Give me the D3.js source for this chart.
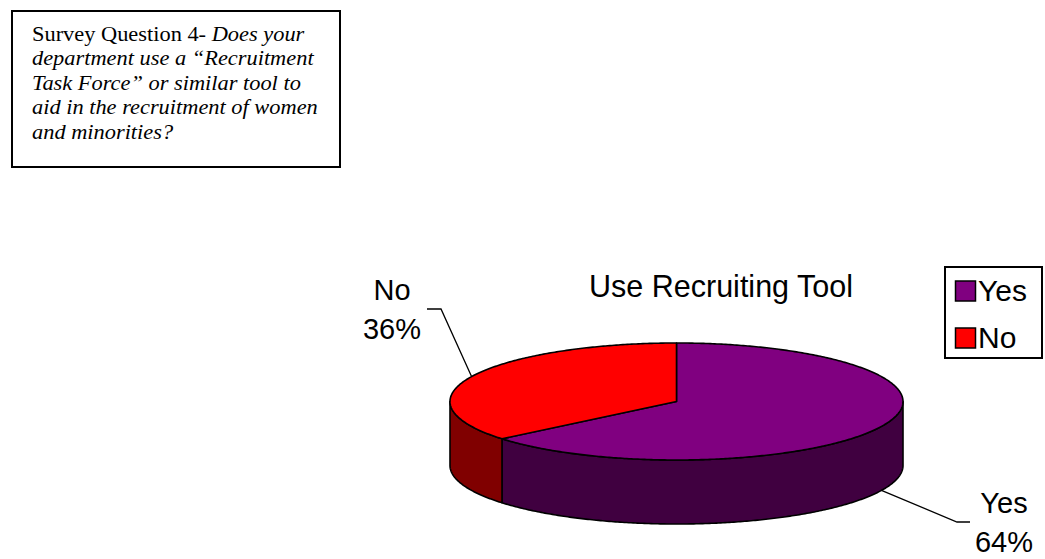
<!DOCTYPE html>
<html>
<head>
<meta charset="utf-8">
<script src="https://cdn.jsdelivr.net/npm/d3@7"></script>
<style>
  html, body { margin: 0; padding: 0; background: #fff; }
  svg { display: block; }
</style>
</head>
<body>
<svg id="chart" width="1045" height="559"></svg>
<script>
// Survey answers
const categories = ["Yes", "No"];
const values = [64, 36];
const pctLabels = ["64%", "36%"];
const chartTitle = "Use Recruiting Tool";
const questionLines = [
  [{t: "Survey Question 4- ", i: false}, {t: "Does your", i: true}],
  [{t: "department use a \u201cRecruitment", i: true}],
  [{t: "Task Force\u201d or similar tool to", i: true}],
  [{t: "aid in the recruitment of women", i: true}],
  [{t: "and minorities?", i: true}]
];

const topColors = ["#800080", "#ff0000"];
const sideColors = ["#400040", "#800000"];

const svg = d3.select("#chart");

// Question box
svg.append("rect")
  .attr("x", 12).attr("y", 11).attr("width", 328).attr("height", 156)
  .attr("fill", "#fff").attr("stroke", "#000").attr("stroke-width", 2);

// The question text is set slightly wide, as in the printed survey
const qText = svg.append("g")
  .attr("transform", "translate(32,0) scale(1.12,1) translate(-32,0)")
  .attr("font-family", "'Liberation Serif', 'Times New Roman', serif")
  .attr("font-size", 20)
  .attr("fill", "#000");
questionLines.forEach((line, li) => {
  const t = qText.append("text").attr("x", 32).attr("y", 41 + li * 24.5);
  line.forEach(seg => {
    t.append("tspan").attr("font-style", seg.i ? "italic" : "normal").text(seg.t);
  });
});

// 3D pie geometry
const cx = 676.5, cy = 401.5, rx = 226.5, ry = 58.5, depth = 64;
const pt = (a, dy) => [cx + rx * Math.sin(a), cy - ry * Math.cos(a) + (dy || 0)];

const pie = d3.pie().sort(null).value(d => d)
  .startAngle(0).endAngle(2 * Math.PI);
const arcs = pie(values);

const line = d3.line();
function sample(a0, a1, dy) {
  const n = Math.max(2, Math.ceil(Math.abs(a1 - a0) / 0.01));
  return d3.range(n + 1).map(i => pt(a0 + (a1 - a0) * i / n, dy));
}

const pieG = svg.append("g")
  .attr("stroke", "#000").attr("stroke-width", 1.6).attr("stroke-linejoin", "round");

// Front walls (visible between 90° and 270° measured clockwise from the top)
arcs.forEach((d, i) => {
  const a0 = Math.max(d.startAngle, Math.PI / 2);
  const a1 = Math.min(d.endAngle, 3 * Math.PI / 2);
  if (a1 <= a0) return;
  const pts = sample(a0, a1, 0).concat(sample(a1, a0, depth));
  pieG.append("path").attr("d", line(pts) + "Z").attr("fill", sideColors[i]);
});

// Top faces
arcs.forEach((d, i) => {
  const pts = [[cx, cy]].concat(sample(d.startAngle, d.endAngle, 0));
  pieG.append("path").attr("d", line(pts) + "Z").attr("fill", topColors[i]);
});

// Leader lines and data labels
const labelFont = "'Liberation Sans', Arial, sans-serif";
const labelSpec = [
  // Yes: leaves the bottom rim, elbow to the right
  {elbow: [957, 522], end: [970, 522], tx: 1004, ty: 513},
  // No: leaves the top rim, elbow to the left
  {elbow: [441, 309], end: [427, 309], tx: 392, ty: 300}
];
arcs.forEach((d, i) => {
  const mid = (d.startAngle + d.endAngle) / 2;
  const front = Math.cos(mid) < 0;
  const start = pt(mid, front ? depth : 0);
  const s = labelSpec[i];
  svg.append("path")
    .attr("d", line([start, s.elbow, s.end]))
    .attr("fill", "none").attr("stroke", "#000").attr("stroke-width", 1.3);
  const t = svg.append("text")
    .attr("font-family", labelFont).attr("font-size", 29)
    .attr("text-anchor", "middle").attr("fill", "#000");
  t.append("tspan").attr("x", s.tx).attr("y", s.ty).text(categories[i]);
  t.append("tspan").attr("x", s.tx).attr("y", s.ty + 39).text(pctLabels[i]);
});

// Title
svg.append("text")
  .attr("x", 721).attr("y", 297)
  .attr("text-anchor", "middle")
  .attr("font-family", labelFont).attr("font-size", 30.5)
  .attr("fill", "#000").text(chartTitle);

// Legend
const legend = svg.append("g");
legend.append("rect")
  .attr("x", 945).attr("y", 267).attr("width", 97).attr("height", 91)
  .attr("fill", "#fff").attr("stroke", "#000").attr("stroke-width", 2);
categories.forEach((c, i) => {
  const y0 = 281 + i * 47;
  legend.append("rect")
    .attr("x", 955.5).attr("y", y0).attr("width", 20).attr("height", 20)
    .attr("fill", topColors[i]).attr("stroke", "#000").attr("stroke-width", 1.5);
  legend.append("text")
    .attr("x", 978).attr("y", y0 + 19.5)
    .attr("font-family", labelFont).attr("font-size", 30)
    .attr("fill", "#000").text(c);
});
</script>
</body>
</html>
